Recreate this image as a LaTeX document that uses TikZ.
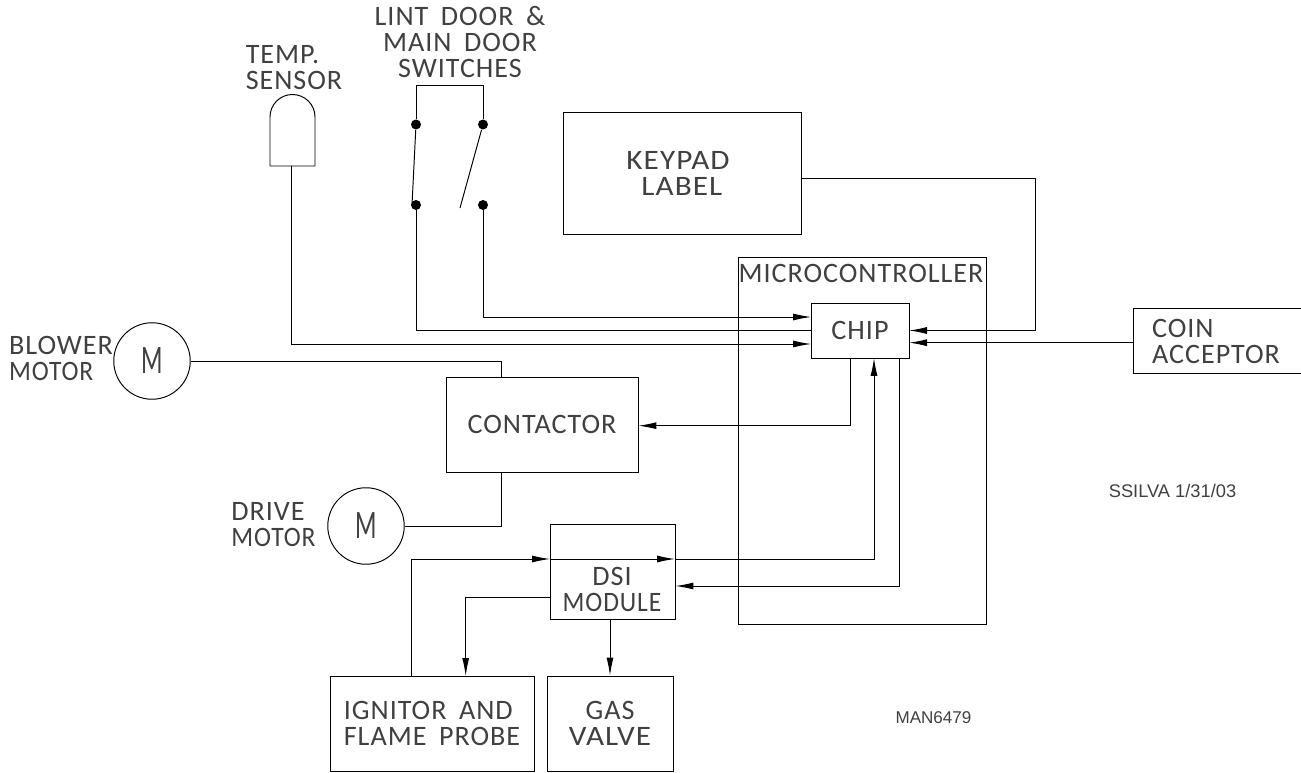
\documentclass[tikz,border=0pt]{standalone}
\usepackage{fontspec}
\setmainfont[LetterSpace=3.5,WordSpace=1.7]{Carlito}
\newfontfamily\notefont{Liberation Sans}
\newfontfamily\motorfont[FakeStretch=.62]{Carlito}
\newcommand{\narrowtext}[1]{\scalebox{.91}[1]{#1}}
\newcommand{\widetext}[1]{\scalebox{1.11}[1]{#1}}
\usepackage{xcolor}
\usetikzlibrary{arrows.meta}
\tikzset{every picture/.style={line width=.55pt}}

\begin{document}
\begin{tikzpicture}[x=.02cm,y=-.02cm,>={Latex[length=.36cm,width=.14cm]},
  every node/.style={font=\fontsize{16}{14.8}\selectfont,text=black!75},
  block/.style={draw=black,line width=.55pt,inner sep=0pt,align=center},
  tag/.style={inner sep=0pt,align=left},
  motor/.style={draw=black,circle,minimum size=1.53cm,inner sep=0pt,
                font=\motorfont\fontsize{23}{23}\selectfont},
  contact/.style={fill=black,circle,minimum size=.2cm,inner sep=0pt},
  note/.style={inner sep=0pt,font=\notefont\fontsize{10.4}{12}\selectfont}]
  \useasboundingbox (0,0) rectangle (1301,773);

  % Blocks.
  \node[block,minimum width=4.76cm,minimum height=2.44cm] (keypad) at (682,173) {};
  \node[block,minimum width=4.96cm,minimum height=7.36cm] (micro) at (862,441) {};
  \node[block,fill=white,minimum width=1.96cm,minimum height=1.10cm] (chip) at (860,330.5) {CHIP};
  \node[block,minimum width=3.36cm,minimum height=1.30cm] (coin) at (1217,340.5) {};
  \node[block,minimum width=3.84cm,minimum height=1.90cm] (contactor) at (542,424.5) {CONTACTOR};
  \node[block,minimum width=2.50cm,minimum height=1.90cm] (dsi) at (612.5,571.5) {};
  \node[block,align=left,minimum width=4.08cm,minimum height=1.90cm] (ignitor) at (432,723.5)
    {IGNITOR AND\\FLAME PROBE};
  \node[block,minimum width=2.52cm,minimum height=1.90cm] (valve) at (610,723.5) {GAS\\\widetext{VALVE}};

  \node[tag] (keypadtext) at (678,173.5) {\widetext{KEYPAD}\\\hspace*{.3cm}\widetext{LABEL}};
  \node[tag] (microtext) at (861,273) {MICROCONTROLLER};
  \node[tag] (cointext) at (1216,341) {COIN\\ACCEPTOR};
  \node[tag,align=center] (dsitext) at (612,589.5) {DSI\\\narrowtext{MODULE}};

  % Motors and their names.
  \node[motor] (blower) at (152,361) {M};
  \node[motor] (drive) at (366,526) {M};
  \node[tag] (blowertext) at (61,358) {BLOWER\\\narrowtext{MOTOR}};
  \node[tag] (drivetext) at (273.5,524.5) {DRIVE\\\narrowtext{MOTOR}};

  % Sensor outline.
  \coordinate (sensorbase) at (291,166);
  \draw (270,117) arc[start angle=180,end angle=360,radius=22.5]
    -- (315,166) -- (270,166) -- cycle;
  \node[tag] (sensortext) at (294,68) {TEMP.\\SENSOR};

  % Door switches.
  \node[tag,align=center] (switchtext) at (460,42) {LINT DOOR \&\\MAIN DOOR\\SWITCHES};
  \node[contact] (lintup) at (416,124.5) {};
  \node[contact] (lintdown) at (416,205) {};
  \node[contact] (mainup) at (483,124.5) {};
  \node[contact] (maindown) at (483,205) {};
  \coordinate (framel) at (416,85.5);
  \coordinate (framer) at (483,85.5);
  \coordinate (lintblade) at (412,205);
  \coordinate (mainblade) at (460,208);
  \draw (lintup) -- (framel) -- (framer) -- (mainup);
  \draw (lintup) -- (lintblade);
  \draw (mainup) -- (mainblade);

  % Ports on the chip.
  \coordinate (chipa) at (811,317);
  \coordinate (chipb) at (811,330.5);
  \coordinate (chipc) at (811,344);
  \coordinate (chipd) at (909,330.5);
  \coordinate (chipe) at (909,342.7);
  \coordinate (chipf) at (850,358);
  \coordinate (chipg) at (874,358);
  \coordinate (chiph) at (899,358);

  % Inputs to the chip.
  \draw[->] (maindown) |- (chipa);
  \draw (lintdown) |- (chipb);
  \draw[->] (sensorbase) |- (chipc);
  \draw[->] (keypad.east |- 0,178) -| (1035,330.5) -- (chipd);
  \draw[->] (coin.west |- chipe) -- (chipe);

  % Contactor and motors.
  \draw (blower.east) -| (501,377);
  \draw (drive.east) -| (501,472);
  \draw[->] (chipf) |- (contactor.east |- 0,425.7);

  % DSI module.
  \coordinate (dsiin) at (550,559);
  \coordinate (dsiout) at (675,559);
  \draw[->] (411,676) |- (dsiin);
  \draw[->] (dsiin) -- (dsiout);
  \draw[->] (dsiout) -| (chipg);
  \draw[->] (chiph) |- (dsi.east |- 0,586);
  \draw[->] (dsi.west |- 0,597.5) -| (465.7,676);
  \draw[->] (valve.north |- dsi.south) -- (valve.north);

  \node[note] (drawn) at (1172.5,491) {SSILVA 1/31/03};
  \node[note,font=\notefont\fontsize{9.7}{11}\selectfont] (drawing) at (933.5,718) {MAN6479};
\end{tikzpicture}
\end{document}
